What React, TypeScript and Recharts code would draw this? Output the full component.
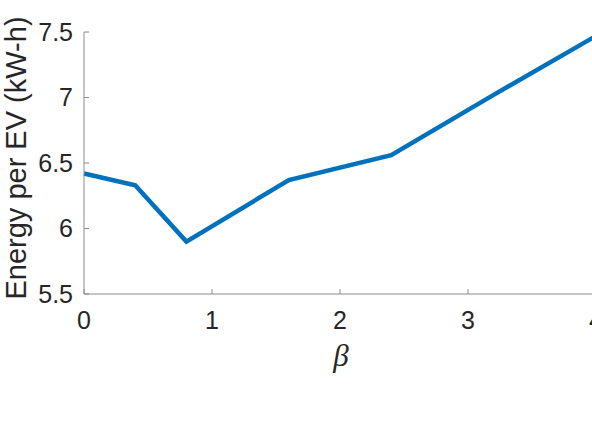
import { LineChart, Line, XAxis, YAxis } from "recharts";

const betaValues = [0, 0.4, 0.8, 1.6, 2.4, 3.2, 4];
const energyPerEv = [6.42, 6.33, 5.9, 6.37, 6.56, 7.02, 7.47];
const xTicks = [0, 1, 2, 3, 4];
const yTicks = [5.5, 6, 6.5, 7, 7.5];

const data = betaValues.map((beta, i) => ({ beta, energy: energyPerEv[i] }));

const AXIS = "#8c8c8c";
const TEXT = "#262626";
const FONT = "'Liberation Sans', Arial, Helvetica, sans-serif";

export default function App() {
  return (
    <div style={{ position: "fixed", left: 0, top: 0, width: 592, height: 426, overflow: "hidden", background: "#fff" }}>
      <LineChart width={640} height={426} data={data} margin={{ top: 32, right: 44, bottom: 72, left: 0 }}>
        <XAxis
          dataKey="beta"
          type="number"
          domain={[0, 4]}
          ticks={xTicks}
          stroke={AXIS}
          height={60}
          tickSize={-5}
          tickMargin={22}
          tick={{ fill: TEXT, fontSize: 25, fontFamily: FONT }}
          label={{
            content: () => (
              <text x={341} y={366} textAnchor="middle" fill={TEXT} fontSize={31} fontStyle="italic" fontFamily="'Liberation Serif', 'Times New Roman', serif">
                β
              </text>
            ),
          }}
        />
        <XAxis
          xAxisId="top"
          orientation="top"
          dataKey="beta"
          type="number"
          domain={[0, 4]}
          ticks={xTicks}
          height={0}
          mirror
          stroke={AXIS}
          tickSize={5}
          tick={false}
        />
        <YAxis
          type="number"
          domain={[5.5, 7.5]}
          ticks={yTicks}
          width={84}
          stroke={AXIS}
          tickSize={-5}
          tickMargin={16}
          tick={{ fill: TEXT, fontSize: 25, fontFamily: FONT }}
          label={{
            content: () => (
              <text x={26} y={158} transform="rotate(-90 26 158)" textAnchor="middle" fill={TEXT} fontSize={29} fontFamily={FONT}>
                Energy per EV (kW-h)
              </text>
            ),
          }}
        />
        <YAxis
          yAxisId="right"
          orientation="right"
          type="number"
          domain={[5.5, 7.5]}
          ticks={yTicks}
          width={0}
          mirror
          stroke={AXIS}
          tickSize={5}
          tick={false}
        />
        <Line
          dataKey="energy"
          type="linear"
          stroke="#0072BD"
          strokeWidth={4.5}
          dot={false}
          isAnimationActive={false}
        />
      </LineChart>
    </div>
  );
}
